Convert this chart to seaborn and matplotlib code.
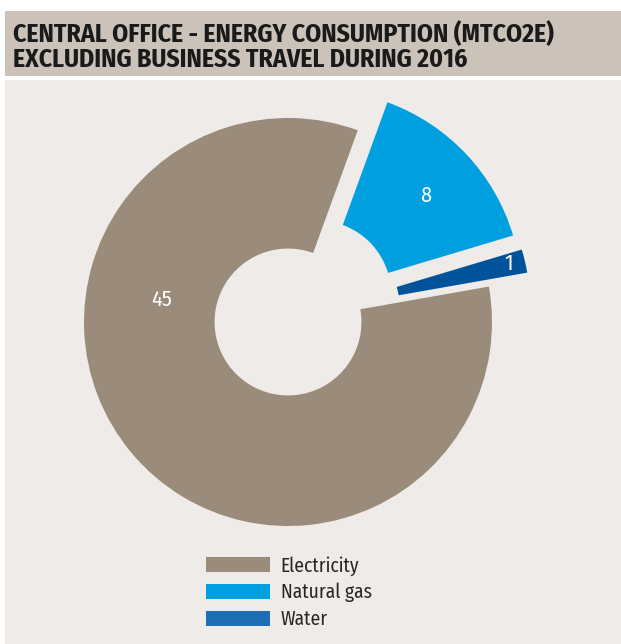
import matplotlib
matplotlib.use("Agg")
import numpy as np
import matplotlib.pyplot as plt
import matplotlib.patches as mpatches
import seaborn as sns

categories = ["Electricity", "Natural gas", "Water"]
values = [45, 8, 1]
title_lines = ["CENTRAL OFFICE - ENERGY CONSUMPTION (MTCO2E)",
               "EXCLUDING BUSINESS TRAVEL DURING 2016"]

sns.set_style("white")
FONT = ["Fira Sans Condensed", "Roboto Condensed", "PT Sans Narrow", "DejaVu Sans"]
plt.rcParams["font.family"] = FONT

pie_colors = ["#9a8b7a", "#009fe0", "#00539b"]
legend_colors = ["#9a8b7a", "#009fe0", "#1f6db3"]

W, H = 621, 644
fig = plt.figure(figsize=(W / 100, H / 100), dpi=100)
fig.patch.set_facecolor("white")

bg = fig.add_axes([0, 0, 1, 1], zorder=0)
bg.set_xlim(0, W)
bg.set_ylim(H, 0)
bg.axis("off")
bg.add_patch(mpatches.Rectangle((5, 11), W - 5, 65, facecolor="#cbc3ba", edgecolor="none"))
bg.add_patch(mpatches.Rectangle((5, 80), W - 5, H - 80, facecolor="#eeebe8", edgecolor="none"))
bg.text(13, 42, title_lines[0], fontsize=18.5, fontweight="bold",
        color="#1a1a1a", family=FONT, va="baseline", ha="left")
bg.text(13, 67, title_lines[1], fontsize=18.5, fontweight="bold",
        color="#1a1a1a", family=FONT, va="baseline", ha="left")

ax = fig.add_axes([0, 0, 1, 1], zorder=1)
ax.set_facecolor("none")
cx, cy, R = 288, 322, 204

wedges, _ = ax.pie(values, colors=pie_colors, startangle=10, counterclock=False,
                   explode=[0, 0.2, 0.2], radius=1,
                   wedgeprops=dict(width=0.64, edgecolor="none"))
# water slice is pulled out slightly more upward than its mid-angle
ang = np.deg2rad(20)
wedges[2].set_center((0.2 * np.cos(ang), 0.2 * np.sin(ang)))
ax.set_aspect("auto")
ax.set_xlim(-cx / R, (W - cx) / R)
ax.set_ylim((cy - H) / R, cy / R)
ax.axis("off")

label_pos = [(-0.618, 0.108), (0.676, 0.618), (1.083, 0.284)]
for v, (lx, ly) in zip(values, label_pos):
    ax.text(lx, ly, str(v), color="white", fontsize=16, ha="center",
            va="center", family=FONT)

handles = [mpatches.Patch(facecolor=c, edgecolor="none") for c in legend_colors]
fig.legend(handles, categories, loc="upper left",
           bbox_to_anchor=(198 / W, 1 - 548 / H), frameon=False,
           fontsize=14, handlelength=3.3, handleheight=0.8,
           labelspacing=0.37, handletextpad=0.55, borderaxespad=0)

fig.savefig("out.png", dpi=100)
